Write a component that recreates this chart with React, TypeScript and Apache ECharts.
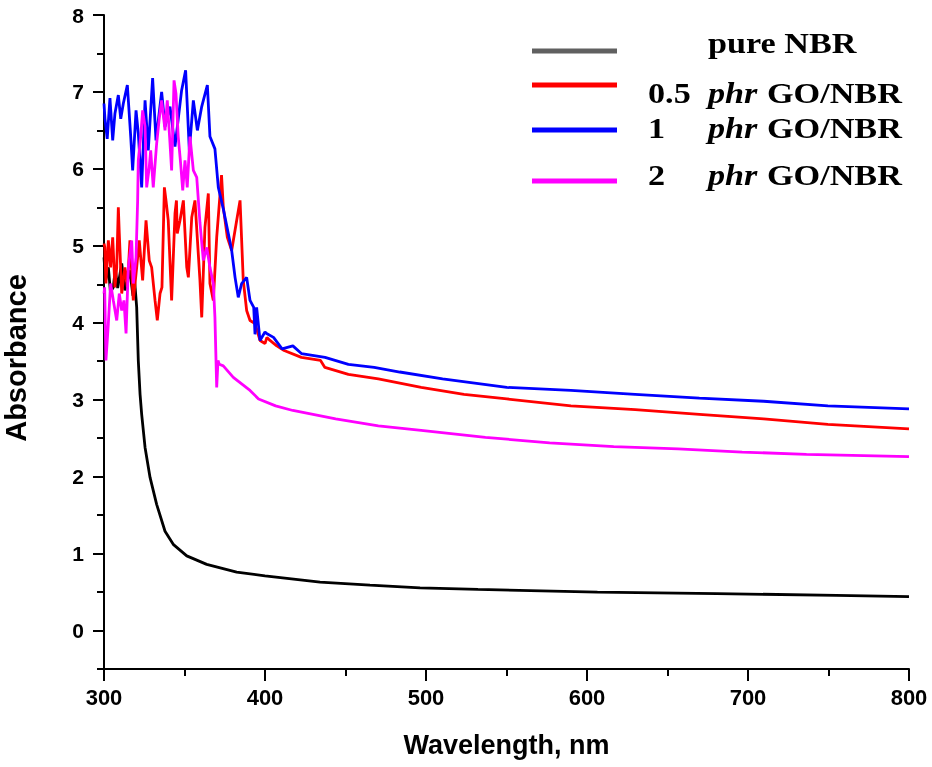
import React, { useEffect, useRef } from "react";
import * as echarts from "echarts";

// wavelength (nm), absorbance pairs
const pureNBR: [number, number][] = [
  [300, 4.85], [301, 4.55], [302.7, 4.72], [304, 4.4], [305.8, 4.46], [307, 4.7],
  [308.5, 4.45], [311, 4.77], [313, 4.42], [316, 4.68], [318, 4.35], [319, 4.55],
  [320.3, 4.2], [321.3, 3.51], [322.4, 3.07], [323.4, 2.81], [325.5, 2.38],
  [328.6, 1.99], [332.7, 1.64], [337.9, 1.29], [343, 1.12], [351.4, 0.97],
  [363.8, 0.86], [382.4, 0.76], [400, 0.71], [434.2, 0.63], [465.2, 0.59],
  [496.3, 0.555], [532.3, 0.535], [606.5, 0.5], [680.6, 0.48], [754.9, 0.457], [800, 0.44],
];

const go05: [number, number][] = [
  [300, 5.03], [300.5, 4.98], [301.2, 4.51], [302.7, 5.07], [304.1, 4.72], [305.4, 5.11],
  [306.8, 4.46], [307.9, 4.72], [308.9, 5.5], [309.5, 5.16], [311, 4.38], [313, 4.72],
  [314.5, 4.46], [316.1, 5.07], [318.2, 4.29], [320.3, 4.72], [321.9, 5.07], [324, 4.55],
  [326.1, 5.33], [328.1, 4.81], [329.6, 4.72], [331.7, 4.29], [333.1, 4.03], [334.8, 4.38],
  [336, 4.46], [337.5, 5.76], [338.5, 5.59], [339.9, 5.33], [342, 4.29], [344.1, 5.42],
  [345, 5.59], [345.5, 5.16], [347.2, 5.33], [349.3, 5.59], [351.4, 4.72], [352.4, 4.59],
  [354.5, 5.37], [356.5, 5.59], [359.6, 4.55], [360.7, 4.07], [362.7, 5.24], [364.8, 5.68],
  [365.8, 4.51], [367.9, 4.29], [370, 5.11], [373, 5.92], [374.1, 5.5], [376.6, 5.11],
  [379.3, 4.94], [382.4, 5.33], [384.5, 5.59], [386.5, 4.55], [388.6, 4.16], [390.7, 4.03],
  [393.8, 3.99], [396.9, 3.77], [400, 3.73], [401.2, 3.81], [403.1, 3.77], [407.3, 3.7],
  [411.9, 3.64], [422.6, 3.55], [434.5, 3.51], [437.2, 3.42], [451.8, 3.33], [470.4, 3.27],
  [497, 3.16], [523.6, 3.07], [550.2, 3.01], [590, 2.92], [629.9, 2.87], [669.8, 2.81],
  [709.7, 2.75], [749.6, 2.68], [800, 2.62],
];

const go1: [number, number][] = [
  [300, 6.85], [300.6, 6.65], [302, 6.39], [303.7, 6.92], [305.4, 6.37], [306.8, 6.72],
  [308.9, 6.96], [310.4, 6.65], [312, 6.85], [314.5, 7.09], [316.6, 6.42], [317.8, 5.98],
  [319.9, 6.76], [321.3, 6.46], [323.4, 5.76], [325.5, 6.89], [327.5, 6.24], [330.2, 7.18],
  [332.3, 6.37], [335.8, 7.0], [337.9, 6.55], [341, 6.81], [344.1, 6.29], [348.2, 7.02],
  [350.7, 7.28], [353, 6.24], [355.5, 6.89], [358, 6.5], [360.7, 6.81], [364.2, 7.09],
  [365.8, 6.42], [368.9, 6.26], [371, 5.76], [374.1, 5.48], [377.2, 5.16], [379.3, 4.94],
  [381.4, 4.59], [383.4, 4.33], [385.5, 4.51], [388.6, 4.59], [390.7, 4.29], [393, 4.2],
  [393.8, 3.85], [394.8, 4.2], [396.9, 3.77], [400, 3.88], [401, 3.86], [405.3, 3.81],
  [410.6, 3.66], [417.3, 3.7], [422.6, 3.6], [437.3, 3.55], [451.8, 3.46], [467.8, 3.42],
  [483.7, 3.36], [510.3, 3.27], [550.2, 3.16], [590, 3.12], [629.9, 3.07], [669.8, 3.02],
  [709.7, 2.98], [749.6, 2.92], [800, 2.88],
];

const go2: [number, number][] = [
  [300, 4.38], [300.4, 4.46], [301.2, 3.51], [302.7, 3.99], [304.1, 4.51], [305.8, 4.29],
  [307.9, 4.03], [309.5, 4.38], [311, 4.16], [312.4, 4.29], [313.7, 3.86], [315.1, 4.72],
  [317.2, 5.07], [318.2, 4.51], [319.9, 4.85], [320.9, 5.59], [321.3, 6.11], [322.8, 6.42],
  [324, 6.76], [325.5, 6.55], [326.5, 5.76], [328.1, 6.02], [329, 6.24], [330.6, 5.76],
  [332.7, 6.33], [334.3, 6.65], [335.8, 6.89], [337.9, 6.5], [339.3, 6.89], [341, 6.33],
  [342, 5.98], [343.5, 7.15], [344.7, 6.98], [346.1, 6.42], [347.6, 6.07], [348.9, 5.72],
  [350.3, 6.11], [351.7, 5.76], [353.4, 6.42], [355.5, 5.98], [357.6, 5.89], [359.6, 5.3],
  [361.7, 4.81], [363.8, 4.98], [365.8, 4.72], [367.9, 4.51], [368.9, 4.07], [370, 3.16],
  [370.8, 3.51], [371.6, 3.46], [374.1, 3.44], [380.3, 3.29], [390.7, 3.12], [396, 3.01],
  [406.6, 2.92], [417.3, 2.86], [443.9, 2.75], [470.4, 2.66], [497, 2.6], [536.9, 2.51],
  [576.8, 2.44], [616.6, 2.39], [656.5, 2.36], [696.4, 2.32], [736.3, 2.29], [800, 2.26],
];

const yMajorTicks = [0, 1, 2, 3, 4, 5, 6, 7, 8];
const yMinorTicks = [-0.5, 0.5, 1.5, 2.5, 3.5, 4.5, 5.5, 6.5, 7.5];

const sans = '"Liberation Sans", Arial, sans-serif';
const serif = '"Liberation Serif", "Times New Roman", serif';
const black = "#000";

const legendText = (text: string, x: number, y: number, italic = false) => ({
  type: "text",
  x,
  y,
  scaleX: 1.14,
  style: {
    text,
    x: 0,
    y: 0,
    font: `${italic ? "italic " : ""}bold 30px ${serif}`,
    fill: black,
    align: "left",
    verticalAlign: "middle",
    textAlign: "left",
    textVerticalAlign: "middle",
  },
});

const legendLine = (y: number, color: string) => ({
  type: "line",
  shape: { x1: 532, y1: y, x2: 617, y2: y },
  style: { stroke: color, lineWidth: 5 },
});

const App = () => {
  const chartRef = useRef<HTMLDivElement>(null);

  useEffect(() => {
    const chart = echarts.init(chartRef.current, null, { renderer: "svg" });
    const tickStyle = { color: black, width: 2 };
    chart.setOption({
      animation: false,
      grid: { left: 104, right: 23, top: 15, bottom: 98 },
      xAxis: {
        type: "value",
        min: 300,
        max: 800,
        interval: 100,
        name: "Wavelength, nm",
        nameLocation: "middle",
        nameGap: 62,
        nameTextStyle: { fontFamily: sans, fontWeight: "bold", fontSize: 27, color: black },
        axisLine: { show: true, onZero: false, lineStyle: tickStyle },
        axisTick: { show: true, length: 12, lineStyle: tickStyle },
        minorTick: { show: true, splitNumber: 2, length: 7, lineStyle: tickStyle },
        axisLabel: { margin: 17, fontFamily: sans, fontWeight: "bold", fontSize: 22, color: black },
        splitLine: { show: false },
      },
      yAxis: [
        {
          type: "value",
          min: -0.5,
          max: 8,
          position: "left",
          axisLine: { show: true, onZero: false, lineStyle: tickStyle },
          axisTick: { show: true, length: 11, customValues: yMajorTicks, lineStyle: tickStyle },
          axisLabel: {
            customValues: yMajorTicks,
            margin: 20,
            fontFamily: sans,
            fontWeight: "bold",
            fontSize: 21,
            color: black,
          },
          splitLine: { show: false },
        },
        {
          type: "value",
          min: -0.5,
          max: 8,
          position: "left",
          axisLine: { show: false },
          axisTick: { show: true, length: 7, customValues: yMinorTicks, lineStyle: tickStyle },
          axisLabel: { show: false },
          splitLine: { show: false },
        },
      ],
      graphic: [
        {
          type: "text",
          x: 16,
          y: 358,
          rotation: Math.PI / 2,
          style: {
            text: "Absorbance",
            font: `bold 29px ${sans}`,
            fill: black,
            align: "center",
            verticalAlign: "middle",
            textAlign: "center",
            textVerticalAlign: "middle",
          },
        },
        legendLine(51, "#606060"),
        legendLine(85, "#ff0000"),
        legendLine(130, "#0000ff"),
        legendLine(181, "#ff00ff"),
        legendText("pure NBR", 708, 43),
        legendText("0.5", 648, 93),
        legendText("phr", 708, 93, true),
        legendText("GO/NBR", 767, 93),
        legendText("1", 648, 128),
        legendText("phr", 708, 128, true),
        legendText("GO/NBR", 767, 128),
        legendText("2", 648, 175),
        legendText("phr", 708, 175, true),
        legendText("GO/NBR", 767, 175),
      ],
      series: [
        { name: "pure NBR", data: pureNBR, color: "#000000" },
        { name: "0.5 phr GO/NBR", data: go05, color: "#ff0000" },
        { name: "1 phr GO/NBR", data: go1, color: "#0000ff" },
        { name: "2 phr GO/NBR", data: go2, color: "#ff00ff" },
      ].map((s) => ({
        ...s,
        type: "line",
        showSymbol: false,
        lineStyle: { width: 2.8, color: s.color },
        emphasis: { disabled: true },
      })),
    });

    return () => {
      chart.dispose();
    };
  }, []);

  return (
    <div
      ref={chartRef}
      style={{ position: "fixed", left: 0, top: 0, width: "932px", height: "767px" }}
    ></div>
  );
};

export default App;
